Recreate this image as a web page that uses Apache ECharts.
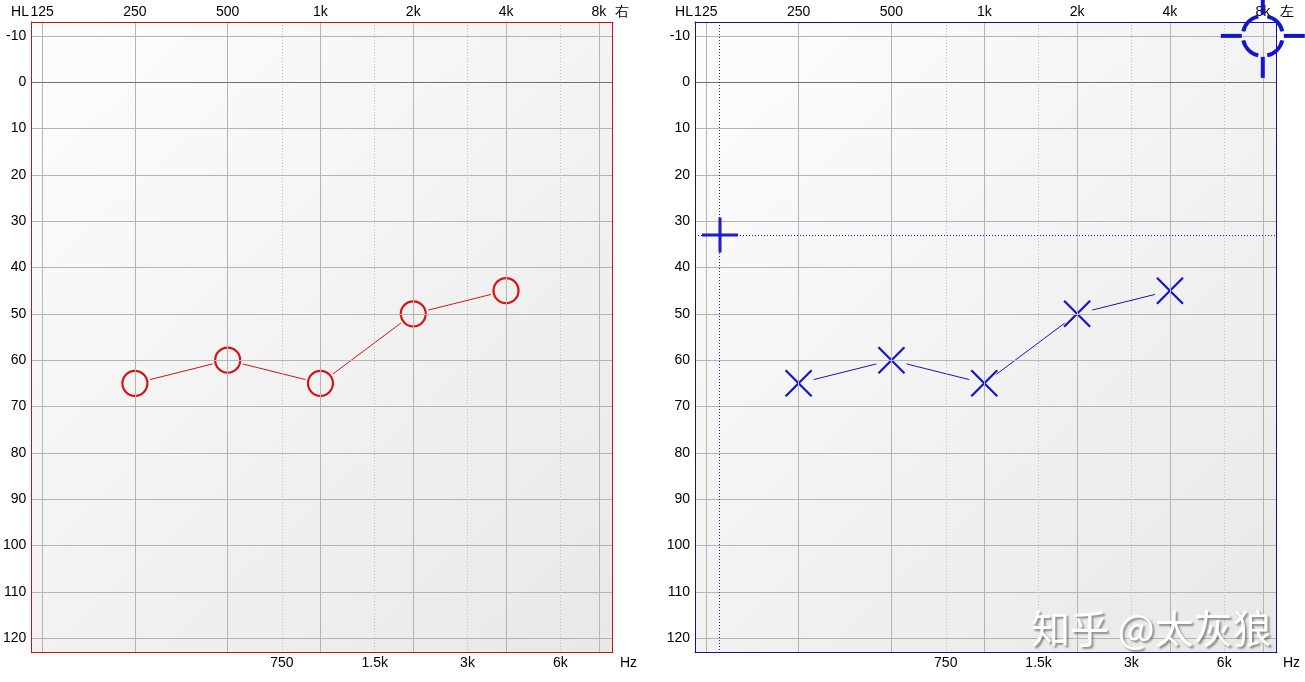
<!DOCTYPE html>
<html>
<head>
<meta charset="utf-8">
<script src="https://cdn.jsdelivr.net/npm/echarts@6.0.0/dist/echarts.min.js"></script>
<style>
  html, body { margin: 0; padding: 0; background: #fff; }
  #chart { width: 1305px; height: 682px; }
</style>
</head>
<body>
<div id="chart"></div>
<script>
// frequency axis (Hz), drawn on an octave scale from 125 Hz
var mainFreqs = [125, 250, 500, 1000, 2000, 4000, 8000];
var mainFreqLabels = ['125', '250', '500', '1k', '2k', '4k', '8k'];
var midFreqs = [750, 1500, 3000, 6000];
var midFreqLabels = ['750', '1.5k', '3k', '6k'];
// hearing level ticks (dB HL)
var levelTicks = [-10, 0, 10, 20, 30, 40, 50, 60, 70, 80, 90, 100, 110, 120];

// thresholds
var testFreqs = [250, 500, 1000, 2000, 4000];
var rightEar = [65, 60, 65, 50, 45];
var leftEar = [65, 60, 65, 50, 45];

// cursors on the left-ear chart: [Hz, dB]
var crossCursor = [139, 33];
var ringCursor = [8000, -10];

var RED = '#d41414';
var BLUE = '#1414c8';
var FONT = '"Liberation Sans", Arial, sans-serif';
var FS = 14;
var X_MIN = -0.116, X_MAX = 6.153;

function oct(f) { return Math.log2(f / 125); }

var mainOct = mainFreqs.map(oct);
var midOct = midFreqs.map(oct);

function labelFor(list, labels) {
  return function (v) {
    for (var i = 0; i < list.length; i++) {
      if (Math.abs(list[i] - v) < 1e-6) return labels[i];
    }
    return '';
  };
}

var bg = new echarts.graphic.LinearGradient(0, 0, 1, 1, [
  { offset: 0, color: '#fdfdfd' },
  { offset: 1, color: '#e8e8e8' }
]);

var grids = [
  { left: 31, top: 22, width: 582, height: 630, frame: '#d01010' },
  { left: 695, top: 22, width: 582, height: 630, frame: '#10109a' }
];

var xAxes = [];
var yAxes = [];
grids.forEach(function (g, gi) {
  var frameLine = { show: true, onZero: false, lineStyle: { color: g.frame, width: 1 } };
  xAxes.push({
    type: 'value', gridIndex: gi, position: 'top', z: 5,
    min: X_MIN, max: X_MAX,
    axisLine: frameLine,
    axisTick: { show: false, customValues: mainOct },
    axisLabel: {
      customValues: mainOct, margin: 3,
      fontFamily: FONT, fontSize: FS, color: '#000',
      formatter: labelFor(mainOct, mainFreqLabels)
    },
    splitLine: { show: true, lineStyle: { color: '#b4b4b4', width: 1 } }
  });
  xAxes.push({
    type: 'value', gridIndex: gi, position: 'bottom', z: 5,
    min: X_MIN, max: X_MAX,
    axisLine: frameLine,
    axisTick: { show: false, customValues: midOct },
    axisLabel: {
      customValues: midOct, margin: 4,
      fontFamily: FONT, fontSize: FS, color: '#000',
      formatter: labelFor(midOct, midFreqLabels)
    },
    splitLine: { show: true, lineStyle: { color: '#bdbdbd', width: 1, type: [1, 2] } }
  });
  yAxes.push({
    type: 'value', gridIndex: gi, position: 'left', inverse: true, z: 5,
    min: -13, max: 123,
    axisLine: frameLine,
    axisTick: { show: false, customValues: levelTicks },
    axisLabel: {
      customValues: levelTicks, margin: 5,
      fontFamily: FONT, fontSize: FS, color: '#000'
    },
    splitLine: { show: true, lineStyle: { color: '#b4b4b4', width: 1 } }
  });
});

function points(freqs, levels) {
  return freqs.map(function (f, i) { return [oct(f), levels[i]]; });
}

// connecting lines that stop short of each symbol
function segments(freqs, levels, color, gi) {
  return {
    type: 'custom', xAxisIndex: gi * 2, yAxisIndex: gi, z: 3,
    silent: true,
    data: points(freqs, levels),
    renderItem: function (params, api) {
      var i = params.dataIndex;
      if (i >= freqs.length - 1) return null;
      var a = api.coord([oct(freqs[i]), levels[i]]);
      var b = api.coord([oct(freqs[i + 1]), levels[i + 1]]);
      var dx = b[0] - a[0], dy = b[1] - a[1];
      var len = Math.sqrt(dx * dx + dy * dy);
      var gap = 15.5;
      var ux = dx / len, uy = dy / len;
      return {
        type: 'line',
        shape: { x1: a[0] + ux * gap, y1: a[1] + uy * gap, x2: b[0] - ux * gap, y2: b[1] - uy * gap },
        style: { stroke: color, lineWidth: 1 }
      };
    }
  };
}

function zeroLine(gi) {
  return {
    type: 'line', xAxisIndex: gi * 2, yAxisIndex: gi, data: [], z: 1, silent: true,
    markLine: {
      silent: true, symbol: 'none', label: { show: false },
      lineStyle: { color: '#707070', width: 1, type: 'solid' },
      data: [{ yAxis: 0 }]
    }
  };
}

// right-hand edge of the frame, drawn on top of the grid lines
function rightEdge(gi) {
  return {
    type: 'line', xAxisIndex: gi * 2, yAxisIndex: gi, data: [], z: 20, silent: true, clip: false,
    markLine: {
      silent: true, symbol: 'none', label: { show: false }, animation: false,
      lineStyle: { color: grids[gi].frame, width: 1, type: 'solid', opacity: 1 },
      data: [{ xAxis: X_MAX }]
    }
  };
}

var series = [
  zeroLine(0),
  zeroLine(1),
  rightEdge(0),
  rightEdge(1),
  segments(testFreqs, rightEar, RED, 0),
  {
    type: 'scatter', xAxisIndex: 0, yAxisIndex: 0, z: 4, silent: true,
    data: points(testFreqs, rightEar),
    symbol: 'circle', symbolSize: 25,
    itemStyle: { color: 'rgba(0,0,0,0)', borderColor: RED, borderWidth: 2.2, opacity: 1 }
  },
  segments(testFreqs, leftEar, BLUE, 1),
  {
    type: 'scatter', xAxisIndex: 2, yAxisIndex: 1, z: 4, silent: true,
    data: points(testFreqs, leftEar),
    symbol: 'path://M0,0L10,10M10,0L0,10', symbolSize: 26,
    itemStyle: { color: 'none', borderColor: BLUE, borderWidth: 2.2, opacity: 1 }
  },
  {
    type: 'scatter', xAxisIndex: 2, yAxisIndex: 1, z: 5, silent: true,
    data: [[oct(crossCursor[0]), crossCursor[1]]],
    symbol: 'path://M10,0L10,20M0,10L20,10', symbolSize: [36, 35],
    itemStyle: { color: 'none', borderColor: '#1c1cd0', borderWidth: 3, opacity: 1 },
    markLine: {
      silent: true, symbol: 'none', label: { show: false },
      lineStyle: { color: '#1c1cd0', width: 1, type: [1, 2], opacity: 1 },
      data: [{ xAxis: oct(crossCursor[0]) }, { yAxis: crossCursor[1] }]
    }
  },
  {
    type: 'custom', xAxisIndex: 2, yAxisIndex: 1, z: 30, silent: true, clip: false,
    data: [[oct(ringCursor[0]), ringCursor[1]]],
    renderItem: function (params, api) {
      var c = api.coord([api.value(0), api.value(1)]);
      var r = 20, half = Math.PI * 13 / 180;
      var style = { stroke: '#1414cc', fill: 'none', lineWidth: 4 };
      var kids = [];
      for (var k = 0; k < 4; k++) {
        var mid = k * Math.PI / 2;
        kids.push({
          type: 'arc',
          shape: { cx: c[0], cy: c[1], r: r, startAngle: mid + half, endAngle: mid + Math.PI / 2 - half },
          style: style
        });
        kids.push({
          type: 'line',
          shape: {
            x1: c[0] + Math.cos(mid) * 21, y1: c[1] + Math.sin(mid) * 21,
            x2: c[0] + Math.cos(mid) * 42, y2: c[1] + Math.sin(mid) * 42
          },
          style: style
        });
      }
      return { type: 'group', children: kids };
    }
  }
];

function text(x, y, str, align) {
  return {
    type: 'text', x: x, y: y, silent: true,
    style: { text: str, fontFamily: FONT, fontSize: FS, fill: '#000', align: align || 'left', verticalAlign: 'middle' }
  };
}

var chart = echarts.init(document.getElementById('chart'), null, { renderer: 'canvas' });
chart.setOption({
  animation: false,
  backgroundColor: '#fff',
  grid: grids.map(function (g) {
    return {
      left: g.left, top: g.top, width: g.width, height: g.height,
      show: true, backgroundColor: bg, borderWidth: 0
    };
  }),
  xAxis: xAxes,
  yAxis: yAxes,
  series: series,
  graphic: [
    text(29, 12, 'HL', 'right'),
    text(615, 12, '右'),
    text(620, 663, 'Hz'),
    text(693, 12, 'HL', 'right'),
    text(1280, 12, '左'),
    text(1283, 663, 'Hz'),
    {
      type: 'text', x: 1031, y: 628, silent: true, z: 100,
      style: {
        text: '知乎 @太灰狼', fontFamily: '"Noto Sans CJK SC", sans-serif', fontSize: 39,
        fill: '#ffffff', verticalAlign: 'middle',
        textShadowColor: 'rgba(0,0,0,0.4)', textShadowOffsetX: 2, textShadowOffsetY: 2, textShadowBlur: 2
      }
    }
  ]
});
</script>
</body>
</html>
